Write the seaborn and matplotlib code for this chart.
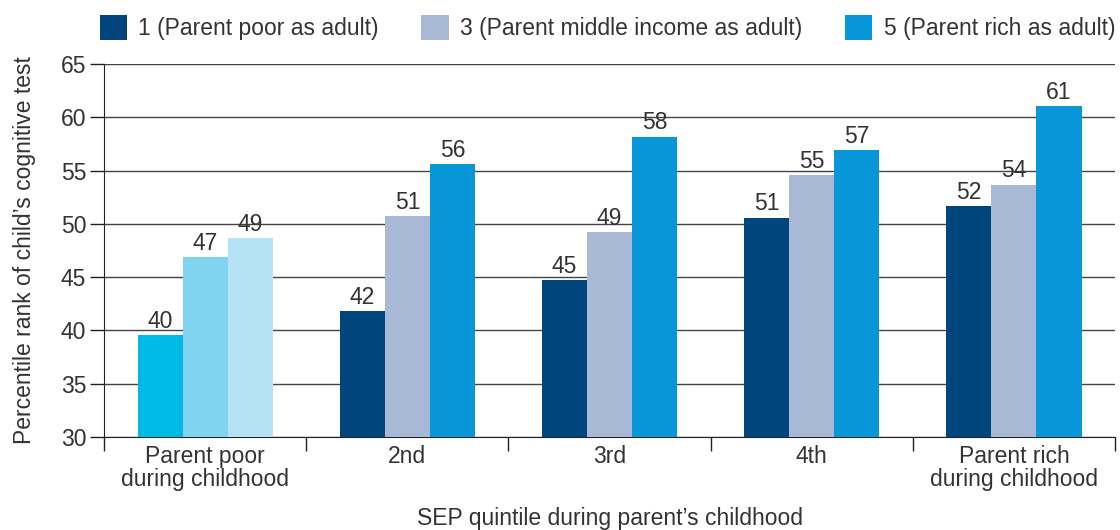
import pandas as pd
import seaborn as sns
import matplotlib.pyplot as plt
from matplotlib.patches import Patch
from matplotlib.ticker import FixedLocator

# Data
groups = ['Parent poor\nduring childhood', '2nd', '3rd', '4th', 'Parent rich\nduring childhood']
series = ['1 (Parent poor as adult)', '3 (Parent middle income as adult)', '5 (Parent rich as adult)']
poor_adult = [39.6, 41.8, 44.7, 50.6, 51.7]
middle_adult = [46.9, 50.7, 49.2, 54.6, 53.7]
rich_adult = [48.7, 55.6, 58.2, 56.9, 61.1]

colors = ['#00457c', '#a8b9d5', '#0796d8']
first_group_colors = ['#00bae6', '#80d4ef', '#b4e3f5']

df = pd.DataFrame({
    'group': groups * 3,
    'series': [series[0]] * 5 + [series[1]] * 5 + [series[2]] * 5,
    'value': poor_adult + middle_adult + rich_adult,
})

sns.set_style('white')
plt.rcParams['font.family'] = ['Liberation Sans', 'DejaVu Sans']
text_color = '#333333'
fs = 16.5

fig = plt.figure(figsize=(11.2, 5.3), dpi=100)
ax = fig.add_axes([0.093, 0.1755, 0.9025, 0.7035])

sns.barplot(data=df, x='group', y='value', hue='series', palette=colors,
            width=0.67, gap=0, saturation=1, ax=ax, legend=False, zorder=3,
            linewidth=0, edgecolor='none')

# bars come out hue by hue; the first group is drawn in lighter blues
bars = ax.patches
for i in range(3):
    bars[i * 5].set_facecolor(first_group_colors[i])

for bar in bars:
    h = bar.get_height()
    ax.text(bar.get_x() + bar.get_width() / 2, h + 0.2, f'{h:.0f}',
            ha='center', va='bottom', fontsize=fs, color=text_color, zorder=4)

ax.set_ylim(30, 65)
ax.set_xlim(-0.5, 4.5)
ax.set_yticks(range(30, 66, 5))
ax.grid(axis='y', color='#444444', linewidth=1, zorder=0)
ax.grid(axis='x', visible=False)
for s in ['top', 'right']:
    ax.spines[s].set_visible(False)
ax.spines['left'].set_color('#222222')
ax.spines['bottom'].set_color('#222222')

ax.xaxis.set_minor_locator(FixedLocator([-0.5, 0.5, 1.5, 2.5, 3.5, 4.5]))
ax.tick_params(axis='x', which='major', bottom=False, length=0, pad=6,
               labelsize=fs, labelcolor=text_color)
ax.tick_params(axis='x', which='minor', bottom=True, length=10, width=1,
               color='#222222', direction='out')
ax.tick_params(axis='y', left=True, length=10, width=1, color='#222222', direction='out',
               labelsize=fs, labelcolor=text_color, pad=3)
for lab in ax.get_xticklabels():
    lab.set_linespacing(1.0)

ax.set_xlabel('SEP quintile during parent\u2019s childhood', fontsize=fs, color=text_color, labelpad=11)
ax.set_ylabel('Percentile rank of child\u2019s cognitive test', fontsize=fs, color=text_color, labelpad=18)

handles = [Patch(facecolor=c, edgecolor='none') for c in colors]
fig.legend(handles, series, loc='upper center', bbox_to_anchor=(0.5424, 1.01), ncol=3,
           frameon=False, fontsize=fs, handlelength=1.2, handleheight=1.3,
           handletextpad=0.5, columnspacing=1.85, labelcolor=text_color)

fig.savefig('out.png', dpi=100)
